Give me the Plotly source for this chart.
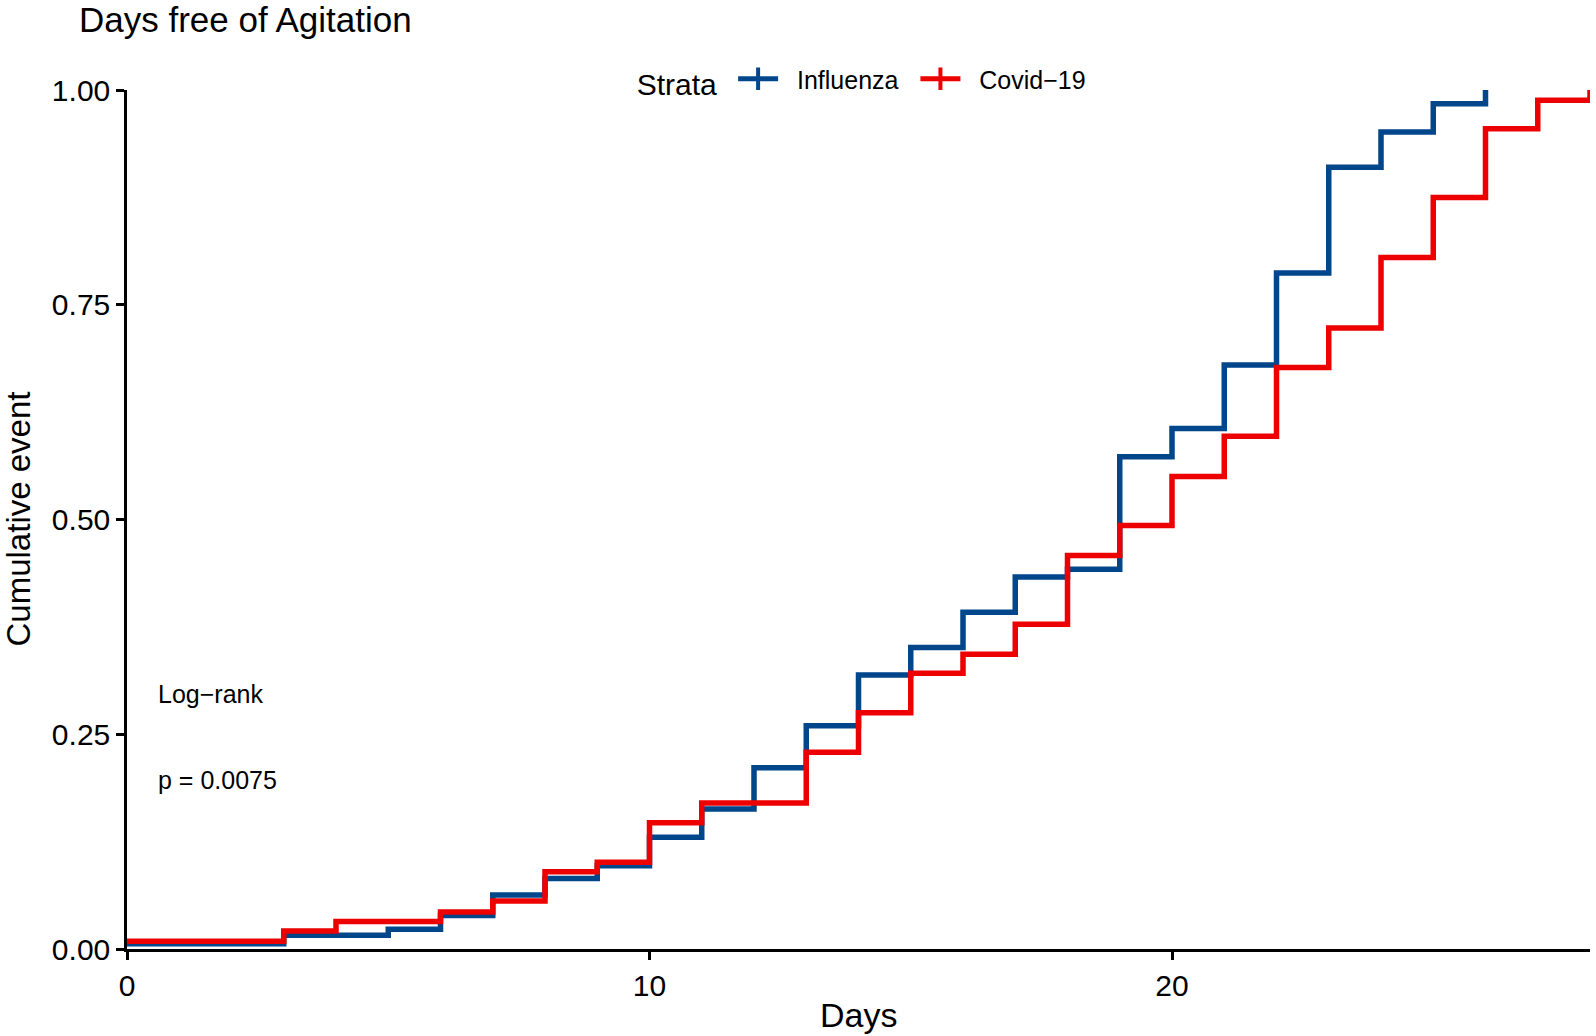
import plotly.graph_objects as go

# ---- data ----
flu_days = [0, 3, 5, 6, 7, 8, 9, 10, 11, 12, 13, 14, 15, 16, 17, 18, 19, 20, 21, 22, 23, 24, 25, 26]
flu_cum = [0.006, 0.016, 0.023, 0.039, 0.063, 0.082, 0.097, 0.130, 0.163, 0.211, 0.260, 0.319,
           0.351, 0.392, 0.433, 0.442, 0.573, 0.606, 0.680, 0.787, 0.910, 0.951, 0.984, 1.0]

cov_days = [0, 3, 4, 6, 7, 8, 9, 10, 11, 13, 14, 15, 16, 17, 18, 19, 20, 21, 22, 23, 24, 25, 26, 27, 28]
cov_cum = [0.009, 0.021, 0.032, 0.043, 0.056, 0.090, 0.101, 0.147, 0.170, 0.229, 0.275, 0.321,
           0.343, 0.378, 0.458, 0.493, 0.550, 0.597, 0.677, 0.723, 0.805, 0.875, 0.955, 0.988, 1.0]

strata_names = ["Influenza", "Covid\u221219"]
strata_colors = ["#00468B", "#ED0000"]
x_ticks = [0, 10, 20]
y_ticks = [0.0, 0.25, 0.5, 0.75, 1.0]
y_tick_text = ["0.00", "0.25", "0.50", "0.75", "1.00"]

FONT = "Liberation Sans, Arial, Helvetica, sans-serif"
NB = "\u00a0"

fig = go.Figure()
series = [(flu_days, flu_cum), (cov_days, cov_cum)]
for (xs, ys), name, col in zip(series, strata_names, strata_colors):
    fig.add_trace(go.Scatter(
        x=xs, y=ys, mode="lines", line=dict(color=col, width=5.5, shape="hv"),
        showlegend=False, hoverinfo="skip"))
    # legend entry: line with a "+" censor mark
    fig.add_trace(go.Scatter(
        x=[None], y=[None], mode="lines+markers", name=NB + NB + name + NB + "\u2009",
        line=dict(color=col, width=5),
        marker=dict(symbol="line-ns", size=18, line=dict(color=col, width=4), color=col)))

fig.add_annotation(x=0.55, y=0.297, xref="x", yref="y", text="Log\u2212rank",
                   showarrow=False, xanchor="left", yanchor="middle",
                   font=dict(family=FONT, size=25, color="black"))
fig.add_annotation(x=0.55, y=0.197, xref="x", yref="y", text="p = 0.0075",
                   showarrow=False, xanchor="left", yanchor="middle",
                   font=dict(family=FONT, size=25, color="black"))

# axis titles
fig.add_annotation(x=0.5, y=0, xref="paper", yref="paper", text="Days", showarrow=False,
                   xanchor="center", yanchor="middle", yshift=-66,
                   font=dict(family=FONT, size=34, color="black"))
fig.add_annotation(x=0, y=0.5, xref="paper", yref="paper", text="Cumulative event",
                   showarrow=False, textangle=-90, xanchor="center", yanchor="middle",
                   xshift=-109, font=dict(family=FONT, size=33, color="black"))

fig.update_layout(
    width=1596, height=1036,
    margin=dict(l=127, r=6, t=90, b=87),
    paper_bgcolor="white", plot_bgcolor="white",
    font=dict(family=FONT, color="black"),
    title=dict(text="Days free of Agitation", xref="container", x=79 / 1596, xanchor="left",
               yref="container", y=1 - 20 / 1036, yanchor="middle",
               font=dict(family=FONT, size=35, color="black")),
    legend=dict(orientation="h", x=0.507, xanchor="center", y=1.011, yanchor="middle",
                title=dict(text="Strata" + NB, font=dict(family=FONT, size=30, color="black"),
                           side="left"),
                font=dict(family=FONT, size=25, color="black"),
                bgcolor="rgba(0,0,0,0)", itemwidth=40),
    xaxis=dict(range=[0, 28], tickvals=x_ticks, ticks="outside", ticklen=8, tickwidth=2.5,
               tickcolor="black", showline=True, linecolor="black", linewidth=2.5,
               showgrid=False, zeroline=False, tickfont=dict(family=FONT, size=30, color="black"),
               ticklabelstandoff=0),
    yaxis=dict(range=[0, 1], tickvals=y_ticks, ticktext=y_tick_text, ticks="outside", ticklen=8,
               tickwidth=2.5, tickcolor="black", showline=True, linecolor="black", linewidth=2.5,
               showgrid=False, zeroline=False, tickfont=dict(family=FONT, size=30, color="black"),
               ticklabelstandoff=0),
)

fig.write_html("out.html", config={"displayModeBar": False},
               post_script="document.body.style.margin='0px';")
